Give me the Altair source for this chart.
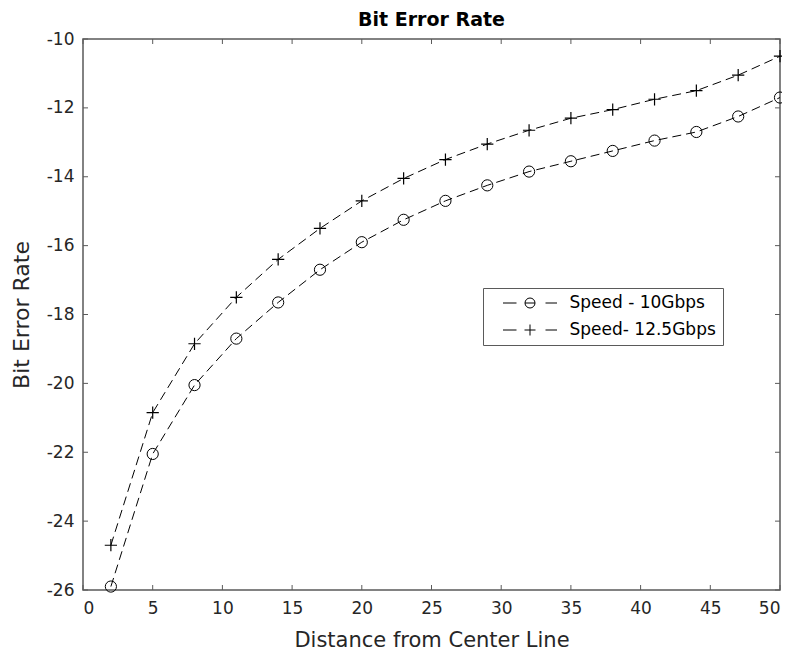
import altair as alt
import pandas as pd

distance = [2, 5, 8, 11, 14, 17, 20, 23, 26, 29, 32, 35, 38, 41, 44, 47, 50]
ber_10 = [-25.9, -22.05, -20.05, -18.7, -17.65, -16.7, -15.9, -15.25, -14.7,
          -14.25, -13.85, -13.55, -13.25, -12.95, -12.7, -12.25, -11.7]
ber_125 = [-24.7, -20.85, -18.85, -17.5, -16.4, -15.5, -14.7, -14.05, -13.5,
           -13.05, -12.65, -12.3, -12.05, -11.75, -11.5, -11.05, -10.5]
series_names = ["Speed - 10Gbps", "Speed- 12.5Gbps"]
x_ticks = [0, 5, 10, 15, 20, 25, 30, 35, 40, 45, 50]
y_ticks = [-26, -24, -22, -20, -18, -16, -14, -12, -10]

W, H = 697, 551
INK = "#262626"
BOX = "#5a5a5a"
FONT = "DejaVu Sans"

df = pd.DataFrame({
    "d": distance * 2,
    "ber": ber_10 + ber_125,
    "series": [series_names[0]] * len(distance) + [series_names[1]] * len(distance),
})
xt = pd.DataFrame({"t": x_ticks})
yt = pd.DataFrame({"t": y_ticks})

xs = alt.Scale(domain=[0, 50], nice=False, zero=False)
ys = alt.Scale(domain=[-26, -10], nice=False, zero=False)

x_axis = alt.Axis(values=x_ticks, title="Distance from Center Line", grid=False,
                  domain=False, ticks=False, labelPadding=10, titlePadding=13,
                  titleFontSize=21, labelExpr="'' + datum.value")
y_axis = alt.Axis(values=y_ticks, title="Bit Error Rate", grid=False,
                  domain=False, ticks=False, labelPadding=9, titlePadding=13,
                  titleFontSize=22, labelExpr="'' + datum.value")

base = alt.Chart(df)

lines = base.mark_line(color="black", strokeWidth=1, strokeDash=[9, 5]).encode(
    x=alt.X("d:Q", scale=xs, axis=x_axis),
    y=alt.Y("ber:Q", scale=ys, axis=y_axis),
    detail="series:N",
)

circles = base.transform_filter(alt.datum.series == series_names[0]).mark_point(
    shape="circle", filled=False, color="black", strokeWidth=1, size=125, opacity=1
).encode(x=alt.X("d:Q", scale=xs), y=alt.Y("ber:Q", scale=ys))

pluses = base.transform_filter(alt.datum.series == series_names[1]).mark_point(
    shape="M-1,0H1M0,-1V1", filled=False, color="black", strokeWidth=1.2, size=150, opacity=1
).encode(x=alt.X("d:Q", scale=xs), y=alt.Y("ber:Q", scale=ys))

circ_leg = ("M-5.4,0H-2.7M3.1,0H5.4M-1,0H1"
            "M-1,0A1,1 0 1,0 1,0A1,1 0 1,0 -1,0")
plus_leg = "M-5.4,0H-2.7M3.1,0H5.4M-1.1,0H1.1M0,-1.1V1.1"

legend_layer = base.transform_filter("false").mark_point(
    filled=False, color="black", strokeWidth=1, size=144
).encode(
    x=alt.X("d:Q", scale=xs),
    y=alt.Y("ber:Q", scale=ys),
    shape=alt.Shape("series:N",
                    scale=alt.Scale(domain=series_names, range=[circ_leg, plus_leg]),
                    legend=alt.Legend(title=None, orient="none", legendX=400, legendY=249,
                                      padding=6.5, strokeColor=BOX, fillColor="white",
                                      symbolOffset=32, labelOffset=31,
                                      symbolStrokeColor="black", symbolFillColor="transparent",
                                      symbolStrokeWidth=1, symbolOpacity=1,
                                      labelFont=FONT, labelFontSize=17, labelColor="black",
                                      rowPadding=9, cornerRadius=0)),
)

tick_len = 5
xt_bot = alt.Chart(xt).mark_rule(color=BOX, strokeWidth=1).encode(
    x=alt.X("t:Q", scale=xs), y=alt.value(H), y2=alt.value(H - tick_len))
xt_top = alt.Chart(xt).mark_rule(color=BOX, strokeWidth=1).encode(
    x=alt.X("t:Q", scale=xs), y=alt.value(0), y2=alt.value(tick_len))
yt_left = alt.Chart(yt).mark_rule(color=BOX, strokeWidth=1).encode(
    y=alt.Y("t:Q", scale=ys), x=alt.value(0), x2=alt.value(tick_len))
yt_right = alt.Chart(yt).mark_rule(color=BOX, strokeWidth=1).encode(
    y=alt.Y("t:Q", scale=ys), x=alt.value(W), x2=alt.value(W - tick_len))

chart = alt.layer(lines, circles, pluses, legend_layer, xt_bot, xt_top, yt_left, yt_right).properties(
    width=W, height=H,
    title=alt.Title("Bit Error Rate", font=FONT, fontSize=19, fontWeight="bold",
                    color="black", offset=0),
    autosize=alt.AutoSizeParams(type="none"),
    padding={"left": 75, "top": 31, "right": 2, "bottom": 60},
).configure_view(stroke=BOX, strokeWidth=1.5).configure_axis(
    labelFont=FONT, labelFontSize=17, labelColor=INK,
    titleFont=FONT, titleColor=INK, titleFontWeight="normal",
)

chart.save("out.html", embed_options={"renderer": "svg", "actions": False})
